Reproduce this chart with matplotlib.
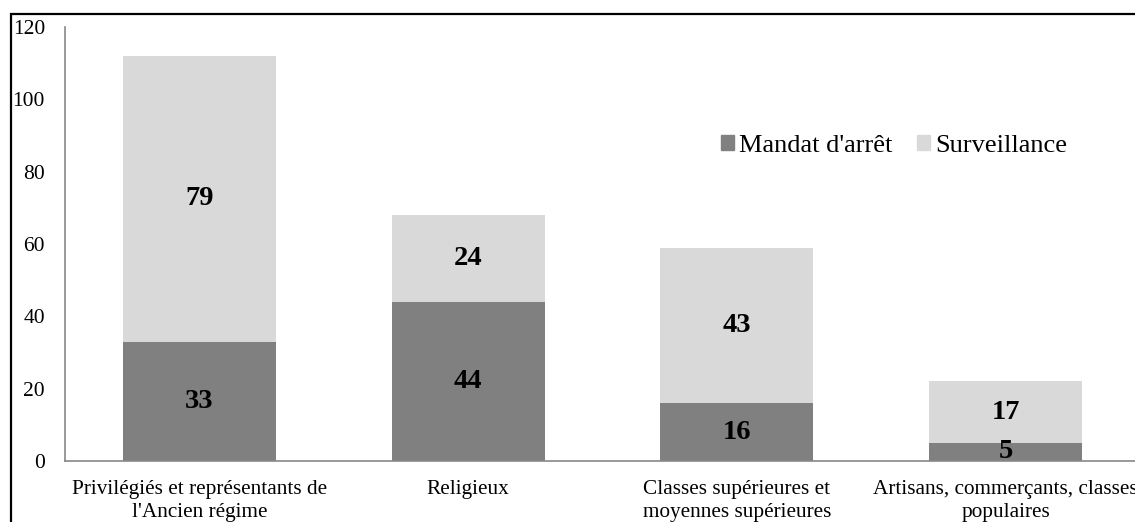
import matplotlib
matplotlib.use("Agg")
import matplotlib.pyplot as plt
from matplotlib.patches import Rectangle, Patch

categories = ["Privilégiés et représentants de\nl'Ancien régime", "Religieux",
              "Classes supérieures et\nmoyennes supérieures",
              "Artisans, commerçants, classes\npopulaires"]
mandat = [33, 44, 16, 5]
surveillance = [79, 24, 43, 17]
series_names = ["Mandat d'arrêt", "Surveillance"]
yticks = [0, 20, 40, 60, 80, 100, 120]

plt.rcParams['font.family'] = ['Liberation Serif', 'DejaVu Serif']

W, H = 1135, 522
fig = plt.figure(figsize=(W / 100, H / 100), dpi=100)
ax = fig.add_axes([65 / W, 1 - 461 / H, (1140 - 65) / W, (461 - 27) / H])

dark = '#808080'
light = '#d9d9d9'
x = list(range(len(categories)))
bw = 0.57
ax.bar(x, mandat, width=bw, color=dark, label=series_names[0], zorder=2)
ax.bar(x, surveillance, width=bw, bottom=mandat, color=light, label=series_names[1], zorder=2)

for i in x:
    ax.text(i, mandat[i] / 2, str(mandat[i]), ha='center', va='center',
            fontsize=20.5, fontweight='bold', zorder=3)
    ax.text(i, mandat[i] + surveillance[i] / 2, str(surveillance[i]), ha='center', va='center',
            fontsize=20.5, fontweight='bold', zorder=3)

ax.set_xlim(-0.5, len(categories) - 0.5)
ax.set_ylim(0, 120)
ax.set_yticks(yticks)
ax.set_yticklabels([str(v) for v in yticks], fontsize=15.5)
ax.set_xticks(x)
ax.set_xticklabels(categories, fontsize=15.3, linespacing=1.3)
ax.tick_params(axis='both', length=0)
ax.tick_params(axis='y', pad=14.4)
ax.tick_params(axis='x', pad=13.5)
for s in ['top', 'right']:
    ax.spines[s].set_visible(False)
for s in ['left', 'bottom']:
    ax.spines[s].set_color('#888888')
    ax.spines[s].set_linewidth(1.2)

ax.legend(handles=[Patch(color=dark), Patch(color=light)], labels=series_names,
          loc='center left', bbox_to_anchor=((721 - 65) / (1140 - 65), (461 - 146) / (461 - 27)),
          ncol=2, frameon=False, fontsize=19, handlelength=0.5, handleheight=0.5,
          handletextpad=0.2, columnspacing=0.9, borderaxespad=0, borderpad=0)

fig.patches.append(Rectangle((10.5 / W, -0.1), 1.2, 1.1 - 13.5 / H, transform=fig.transFigure,
                             fill=False, edgecolor='black', linewidth=1.6))

fig.savefig('out.png', dpi=100)
